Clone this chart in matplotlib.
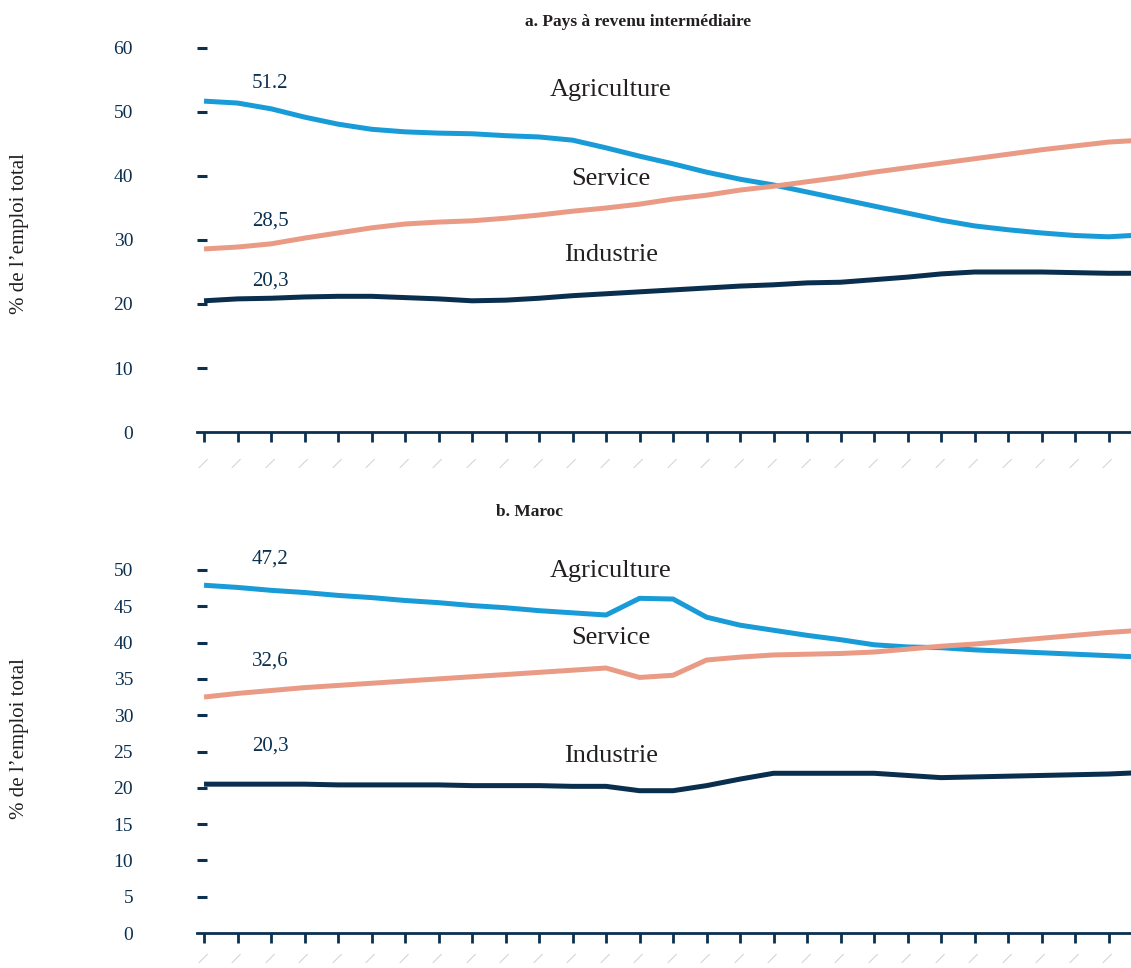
import numpy as np
import matplotlib
matplotlib.use("Agg")
import matplotlib.pyplot as plt

plt.rcParams['font.family'] = ['Liberation Serif', 'DejaVu Serif']

# years shown on both panels
years = list(range(1991, 2020))

# a. Pays à revenu intermédiaire (% de l'emploi total)
mic_agri = [51.7, 51.4, 50.5, 49.2, 48.1, 47.3, 46.9, 46.7, 46.6, 46.3,
            46.1, 45.6, 44.4, 43.1, 41.9, 40.6, 39.5, 38.6, 37.5, 36.4,
            35.3, 34.2, 33.1, 32.2, 31.6, 31.1, 30.7, 30.5, 30.8]
mic_serv = [28.6, 28.9, 29.4, 30.3, 31.1, 31.9, 32.5, 32.8, 33.0, 33.4,
            33.9, 34.5, 35.0, 35.6, 36.4, 37.0, 37.8, 38.4, 39.1, 39.8,
            40.6, 41.3, 42.0, 42.7, 43.4, 44.1, 44.7, 45.3, 45.6]
mic_ind = [20.5, 20.8, 20.9, 21.1, 21.2, 21.2, 21.0, 20.8, 20.5, 20.6,
           20.9, 21.3, 21.6, 21.9, 22.2, 22.5, 22.8, 23.0, 23.3, 23.4,
           23.8, 24.2, 24.7, 25.0, 25.0, 25.0, 24.9, 24.8, 24.8]

# b. Maroc
mar_agri = [47.9, 47.6, 47.2, 46.9, 46.5, 46.2, 45.8, 45.5, 45.1, 44.8,
            44.4, 44.1, 43.8, 46.1, 46.0, 43.5, 42.4, 41.7, 41.0, 40.4,
            39.7, 39.4, 39.3, 39.0, 38.8, 38.6, 38.4, 38.2, 38.0]
mar_serv = [32.5, 33.0, 33.4, 33.8, 34.1, 34.4, 34.7, 35.0, 35.3, 35.6,
            35.9, 36.2, 36.5, 35.2, 35.5, 37.6, 38.0, 38.3, 38.4, 38.5,
            38.7, 39.1, 39.5, 39.8, 40.2, 40.6, 41.0, 41.4, 41.7]
mar_ind = [20.5, 20.5, 20.5, 20.5, 20.4, 20.4, 20.4, 20.4, 20.3, 20.3,
           20.3, 20.2, 20.2, 19.6, 19.6, 20.3, 21.2, 22.0, 22.0, 22.0,
           22.0, 21.7, 21.4, 21.5, 21.6, 21.7, 21.8, 21.9, 22.1]

c_agri = '#199bd8'
c_serv = '#ea9b85'
c_ind = '#0a2f4e'
navy = '#0b3050'
txt = '#231f20'

fig = plt.figure(figsize=(11.31, 9.68), dpi=100)
W, H = 1131, 968

def px_axes(left, top, right, bottom):
    return fig.add_axes([left / W, 1 - bottom / H, (right - left) / W, (bottom - top) / H])

ax1 = px_axes(197, 48, 1131, 432)
ax2 = px_axes(197, 570, 1131, 933)

def style(ax, ymax, ystep, xpad):
    for s in ['top', 'right', 'left']:
        ax.spines[s].set_visible(False)
    ax.spines['bottom'].set_color(navy)
    ax.spines['bottom'].set_linewidth(2.0)
    ax.set_xlim(years[0] - 0.21, years[0] + 27.67)
    ax.set_ylim(0, ymax)
    ax.set_yticks(np.arange(0, ymax + 1, ystep))
    ax.set_xticks(years[:28])
    ax.set_xticklabels(['\u2014'] * 28)
    ax.tick_params(axis='y', direction='in', length=7, width=2.2, color=navy,
                   labelcolor=navy, labelsize=14, pad=46)
    ax.tick_params(axis='x', direction='out', length=7, width=2.0, color=navy,
                   labelcolor='#cfcfcf', labelsize=10, pad=xpad, labelrotation=45)
    for lab in ax.get_xticklabels():
        lab.set_family('DejaVu Sans')
    # the axis line already marks y=0
    ax.yaxis.get_major_ticks()[0].tick1line.set_visible(False)

def draw(ax, agri, serv, ind):
    kw = dict(lw=3.6, solid_capstyle='butt', solid_joinstyle='round')
    ax.plot(years, agri, color=c_agri, **kw)
    ax.plot(years, serv, color=c_serv, **kw)
    ax.plot(years, ind, color=c_ind, **kw)

style(ax1, 60, 10, 9)
style(ax2, 50, 5, 5)
draw(ax1, mic_agri, mic_serv, mic_ind)
draw(ax2, mar_agri, mar_serv, mar_ind)

xlab = years[0] + 12.15
xval = years[0] + 1.97
for ax, pos in [(ax1, [53.4, 39.5, 27.7]), (ax2, [49.9, 40.6, 24.4])]:
    for name, y in zip(['Agriculture', 'Service', 'Industrie'], pos):
        ax.text(xlab, y, name, ha='center', va='center', fontsize=19, color=txt)

for ax, vals, pos in [(ax1, ['51.2', '28,5', '20,3'], [54.4, 33.0, 23.6]),
                      (ax2, ['47,2', '32,6', '20,3'], [51.5, 37.5, 25.8])]:
    for v, y in zip(vals, pos):
        ax.text(xval, y, v, ha='center', va='center', fontsize=15, color=navy)

fig.text(638 / W, 1 - 22 / H, 'a. Pays à revenu intermédiaire', ha='center', va='center',
         fontsize=12.5, fontweight='bold', color=txt)
fig.text(530 / W, 1 - 512 / H, 'b. Maroc', ha='center', va='center',
         fontsize=12.5, fontweight='bold', color=txt)

fig.text(20 / W, 1 - 234 / H, "% de l\u2019emploi total", rotation=90, ha='center', va='center',
         fontsize=15, color=txt)
fig.text(20 / W, 1 - 739 / H, "% de l\u2019emploi total", rotation=90, ha='center', va='center',
         fontsize=15, color=txt)

fig.savefig('out.png', dpi=100)
